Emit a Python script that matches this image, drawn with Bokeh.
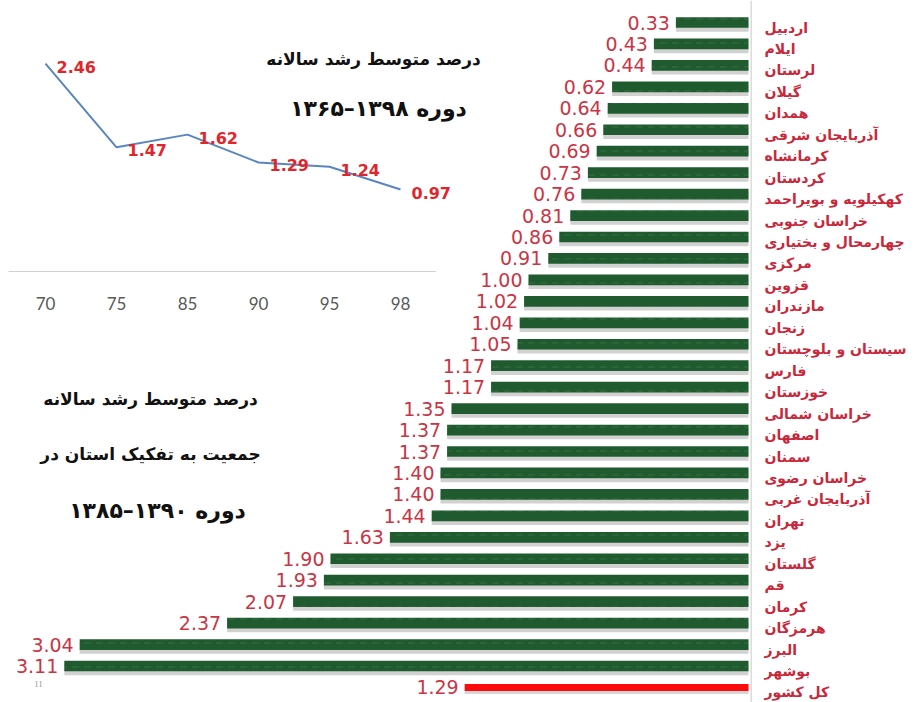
from bokeh.plotting import figure
from bokeh.models import Range1d, ColumnDataSource, Label, Span
from bokeh.transform import dodge
from bokeh.core.properties import value
from bokeh.embed import file_html
from bokeh.resources import INLINE

# ---------------- data ----------------
provinces = [
    "اردبیل", "ایلام", "لرستان", "گیلان", "همدان", "آذربایجان شرقی",
    "کرمانشاه", "کردستان", "کهکیلویه و بویراحمد", "خراسان جنوبی",
    "چهارمحال و بختیاری", "مرکزی", "قزوین", "مازندران", "زنجان",
    "سیستان و بلوچستان", "فارس", "خوزستان", "خراسان شمالی", "اصفهان",
    "سمنان", "خراسان رضوی", "آذربایجان غربی", "تهران", "یزد", "گلستان",
    "قم", "کرمان", "هرمزگان", "البرز", "بوشهر",
]
growth = [
    0.33, 0.43, 0.44, 0.62, 0.64, 0.66, 0.69, 0.73, 0.76, 0.81, 0.86,
    0.91, 1.00, 1.02, 1.04, 1.05, 1.17, 1.17, 1.35, 1.37, 1.37, 1.40,
    1.40, 1.44, 1.63, 1.90, 1.93, 2.07, 2.37, 3.04, 3.11,
]
national_label = "کل کشور"
national_value = 1.29

inset_years = ["70", "75", "85", "90", "95", "98"]
inset_values = [2.46, 1.47, 1.62, 1.29, 1.24, 0.97]

title_top = ["درصد متوسط رشد سالانه", "دوره ۱۳۹۸–۱۳۶۵"]
title_bottom = ["درصد متوسط رشد سالانه", "جمعیت به تفکیک استان در", "دوره ۱۳۹۰–۱۳۸۵"]

# ---------------- layout constants ----------------
W, H = 917, 702
BAR_PX = 220.0      # px per unit of growth
ZERO_X = 748.0      # px where growth = 0
ROW0_Y = 22.0       # px of first row
ROW_PX = 21.45      # px per row

IN_X0 = 45.0        # px of first inset category
IN_STEP = 71.0
IN_ZERO_Y = 271.0   # px of inset value 0
IN_PX = 84.5        # px per unit (inset)

x_range = Range1d(ZERO_X / BAR_PX, -(W - ZERO_X) / BAR_PX)
n_rows = len(provinces) + 1
y_range = Range1d((n_rows - 1) + (H - (ROW0_Y + (n_rows - 1) * ROW_PX)) / ROW_PX,
                  -ROW0_Y / ROW_PX)

p = figure(width=W, height=H, output_backend="svg", toolbar_location=None,
           x_range=x_range, y_range=y_range,
           x_axis_location=None, y_axis_location=None,
           min_border=0, outline_line_color=None, background_fill_color="white")
p.xgrid.visible = False
p.ygrid.visible = False

p.extra_x_ranges = {"ix": Range1d(-IN_X0 / IN_STEP, (W - IN_X0) / IN_STEP)}
p.extra_y_ranges = {"iy": Range1d(-(H - IN_ZERO_Y) / IN_PX, IN_ZERO_Y / IN_PX)}

RED_TXT = "#c8283a"
VAL_TXT = "#c93545"

# ---------------- bar chart ----------------
src = ColumnDataSource(dict(
    y=list(range(len(provinces))),
    val=growth,
    name=provinces,
    lbl=["%.2f" % v for v in growth],
))
nat = ColumnDataSource(dict(
    y=[len(provinces)], val=[national_value], name=[national_label],
    lbl=["%.2f" % national_value],
))

p.add_layout(Span(location=-0.012, dimension="height", line_color="#c8c8c8", line_width=1))

# shadows + bars
p.hbar(y=dodge("y", 0.17, range=p.y_range), left=0, right="val", height=0.52, source=src,
       fill_color="#8c8c8c", fill_alpha=0.4, line_color=None)
p.hbar(y="y", left=0, right="val", height=0.5, source=src,
       fill_color="#1f5b2e", line_color=None,
       hatch_pattern="horizontal_dash", hatch_color="#6aa274", hatch_alpha=0.25,
       hatch_scale=12, hatch_weight=1)

p.hbar(y=dodge("y", 0.12, range=p.y_range), left=0, right="val", height=0.38, source=nat,
       fill_color="#999999", fill_alpha=0.4, line_color=None)
p.hbar(y="y", left=0, right="val", height=0.33, source=nat,
       fill_color="#ff0a0a", line_color=None)

for s in (src, nat):
    p.text(x="val", y="y", text="lbl", source=s, x_offset=-6,
           text_align="right", text_baseline="middle",
           text_font=value("DejaVu Sans"), text_font_size="19px", text_color=VAL_TXT)
    p.text(x=0, y="y", text="name", source=s, x_offset=16, y_offset=5,
           text_align="left", text_baseline="middle",
           text_font=value("DejaVu Sans"), text_font_style="bold",
           text_font_size="14px", text_color=RED_TXT)

# ---------------- inset line chart ----------------
isrc = ColumnDataSource(dict(
    i=list(range(len(inset_years))), v=inset_values,
    yr=inset_years, lbl=["%.2f" % v for v in inset_values],
))
p.segment(x0=-0.52, y0=0, x1=len(inset_years) - 0.5, y1=0,
          x_range_name="ix", y_range_name="iy", line_color="#d0d0d0", line_width=1.2)
p.line(x="i", y="v", source=isrc, x_range_name="ix", y_range_name="iy",
       line_color="#5a86c0", line_width=2)
p.text(x="i", y="v", text="lbl", source=isrc, x_range_name="ix", y_range_name="iy",
       x_offset=11, y_offset=3, text_align="left", text_baseline="middle",
       text_font=value("DejaVu Sans"), text_font_style="bold",
       text_font_size="16px", text_color="#e0262b")
p.text(x="i", y=-0.38, text="yr", source=isrc, x_range_name="ix", y_range_name="iy",
       text_align="center", text_baseline="middle",
       text_font=value("Lato"), text_font_size="17px", text_color="#595959")

# ---------------- titles ----------------
def add_title(txt, px, py, size):
    p.add_layout(Label(x=px, y=H - py, x_units="screen", y_units="screen",
                       text=txt, text_align="center", text_baseline="middle",
                       text_font="DejaVu Sans", text_font_style="bold",
                       text_font_size=size, text_color="#111111"))

add_title(title_top[0], 373, 58, "17px")
add_title(title_top[1], 378, 108, "22px")
add_title(title_bottom[0], 150, 398, "17px")
add_title(title_bottom[1], 150, 453, "17px")
add_title(title_bottom[2], 157, 510, "22px")

p.add_layout(Label(x=38, y=H - 683, x_units="screen", y_units="screen",
                   text="11", text_align="center", text_baseline="middle",
                   text_font="Liberation Serif", text_font_size="9px", text_color="#999999"))

open("out.html", "w").write(file_html(p, INLINE))
